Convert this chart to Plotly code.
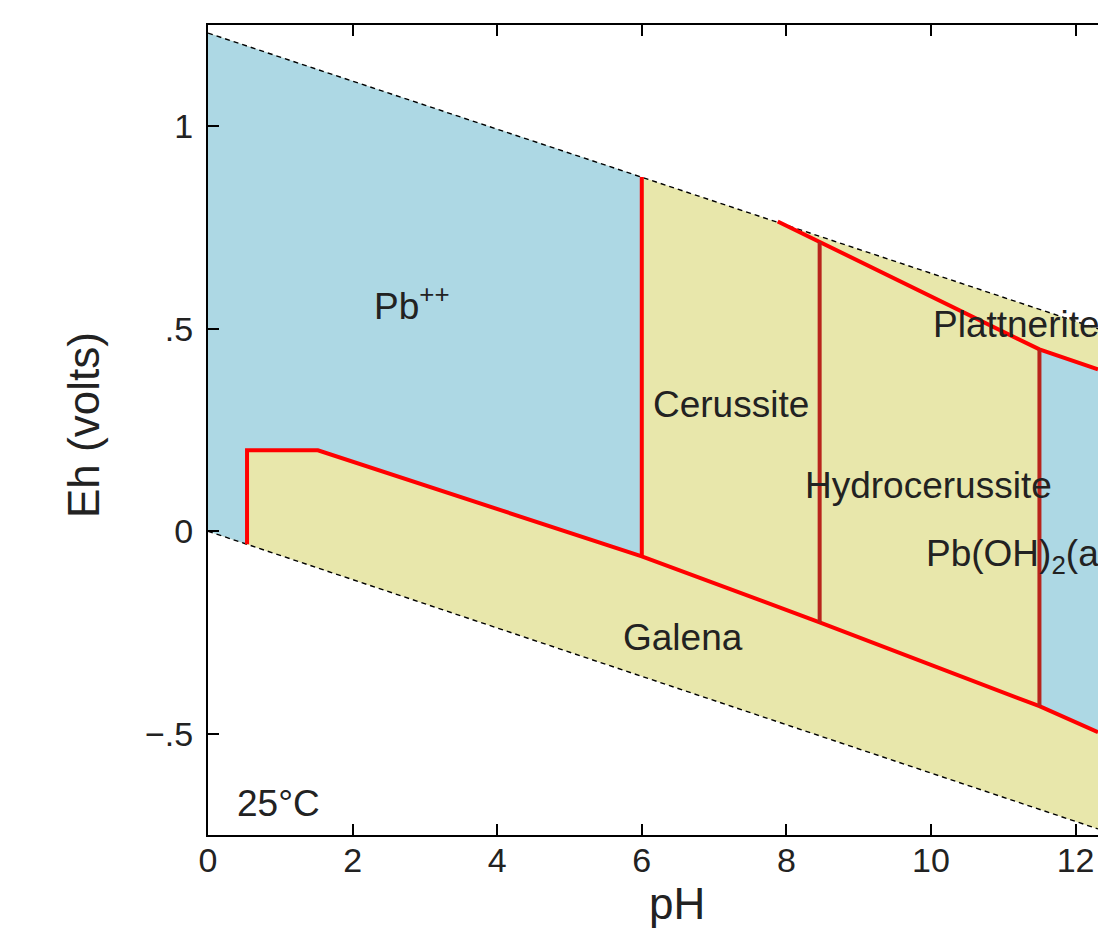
import plotly.graph_objects as go

# ---- data (pH, Eh in volts) ----
# water stability limits (dashed lines)
water_upper_ph = [0.0, 12.31]
water_upper_eh = [1.23, 0.50]
water_lower_ph = [0.0, 12.31]
water_lower_eh = [0.0, -0.735]

# Pb++ / Galena boundary (red)
galena_ph = [0.54, 0.54, 1.52, 6.0, 8.46, 11.5, 12.31]
galena_eh = [-0.032, 0.20, 0.20, -0.062, -0.225, -0.432, -0.496]

# Plattnerite lower boundary (red)
platt_ph = [7.88, 8.46, 11.5, 12.31]
platt_eh = [0.765, 0.714, 0.449, 0.40]

# vertical boundaries
cerussite_ph = [6.0, 6.0]
cerussite_eh = [0.875, -0.062]
hydro_ph = [8.46, 8.46]
hydro_eh = [0.714, -0.225]
pboh_ph = [11.5, 11.5]
pboh_eh = [0.449, -0.432]

# aqueous (blue) fields
pb_field_ph = [0.0, 6.0, 6.0, 1.52, 0.54, 0.54, 0.0]
pb_field_eh = [1.23, 0.875, -0.062, 0.20, 0.20, -0.032, 0.0]
aq_field_ph = [11.5, 12.31, 12.31, 11.5]
aq_field_eh = [0.449, 0.40, -0.496, -0.432]

# labels
label_text = ["Pb<sup>++</sup>", "Cerussite", "Hydrocerussite", "Galena", "25°C"]
label_ph = [2.82, 7.23, 9.97, 6.57, 0.98]
label_eh = [0.563, 0.312, 0.114, -0.263, -0.671]
left_label_text = ["Plattnerite", "Pb(OH)<sub>2</sub>(aq)"]
left_label_ph = [10.0, 9.90]
left_label_eh = [0.511, -0.060]

x_ticks = [0, 2, 4, 6, 8, 10, 12]
y_ticks = [-0.5, 0, 0.5, 1]
y_ticktext = ["\u2212.5", "0", ".5", "1"]

BLUE = "#add8e4"
YELLOW = "#e8e7ab"
RED = "#ff0000"
DARKRED = "#b8241c"
FONT = "Liberation Sans, Arial, sans-serif"
TXT = "#222222"

fig = go.Figure()

# yellow band between water lines
band_ph = water_upper_ph + water_lower_ph[::-1]
band_eh = water_upper_eh + water_lower_eh[::-1]
fig.add_trace(go.Scatter(x=band_ph, y=band_eh, fill="toself", fillcolor=YELLOW,
                         mode="none", hoverinfo="skip"))
fig.add_trace(go.Scatter(x=pb_field_ph, y=pb_field_eh, fill="toself", fillcolor=BLUE,
                         mode="none", hoverinfo="skip"))
fig.add_trace(go.Scatter(x=aq_field_ph, y=aq_field_eh, fill="toself", fillcolor=BLUE,
                         mode="none", hoverinfo="skip"))

# dashed water lines
for xs, ys in [(water_upper_ph, water_upper_eh), (water_lower_ph, water_lower_eh)]:
    fig.add_trace(go.Scatter(x=xs, y=ys, mode="lines",
                             line=dict(color="black", width=1.4, dash="5px,4px"),
                             hoverinfo="skip"))

# red boundaries
for xs, ys, c in [(galena_ph, galena_eh, RED), (platt_ph, platt_eh, RED),
                  (cerussite_ph, cerussite_eh, RED), (hydro_ph, hydro_eh, DARKRED),
                  (pboh_ph, pboh_eh, DARKRED)]:
    fig.add_trace(go.Scatter(x=xs, y=ys, mode="lines",
                             line=dict(color=c, width=4), hoverinfo="skip"))

annotations = []
for t, x, y in zip(label_text, label_ph, label_eh):
    annotations.append(dict(x=x, y=y, xref="x", yref="y", text=t, showarrow=False,
                            xanchor="center", yanchor="middle",
                            font=dict(family=FONT, size=37, color=TXT)))
for t, x, y in zip(left_label_text, left_label_ph, left_label_eh):
    annotations.append(dict(x=x, y=y, xref="x", yref="y", text=t, showarrow=False,
                            xanchor="left", yanchor="middle",
                            font=dict(family=FONT, size=37, color=TXT)))
# axis titles
annotations.append(dict(x=0.527, y=-0.084, xref="paper", yref="paper", text="pH",
                        showarrow=False, xanchor="center", yanchor="middle",
                        font=dict(family=FONT, size=44, color=TXT)))
annotations.append(dict(x=-0.1393, y=0.5062, xref="paper", yref="paper", text="Eh (volts)",
                        showarrow=False, xanchor="center", yanchor="middle", textangle=-90,
                        font=dict(family=FONT, size=44, color=TXT)))

fig.update_layout(
    width=1098, height=930,
    margin=dict(l=208, r=0, t=25, b=95),
    paper_bgcolor="white", plot_bgcolor="white",
    showlegend=False,
    annotations=annotations,
    xaxis=dict(range=[0, 12.31], tickvals=x_ticks, ticks="inside", ticklen=11,
               tickwidth=2, tickcolor="black", showline=True, linewidth=2,
               linecolor="black", mirror="ticks", showgrid=False, zeroline=False,
               ticklabelstandoff=-6,
               tickfont=dict(family=FONT, size=34, color=TXT)),
    yaxis=dict(range=[-0.75, 1.25], tickvals=y_ticks, ticktext=y_ticktext,
               ticks="inside", ticklen=11, tickwidth=2, tickcolor="black",
               showline=True, linewidth=2, linecolor="black", mirror=False,
               showgrid=False, zeroline=False, ticklabelstandoff=6,
               tickfont=dict(family=FONT, size=34, color=TXT)),
)

fig.write_html(
    "out.html",
    config={"displayModeBar": False},
    post_script="document.body.style.margin='0';document.body.style.overflow='hidden';",
)
